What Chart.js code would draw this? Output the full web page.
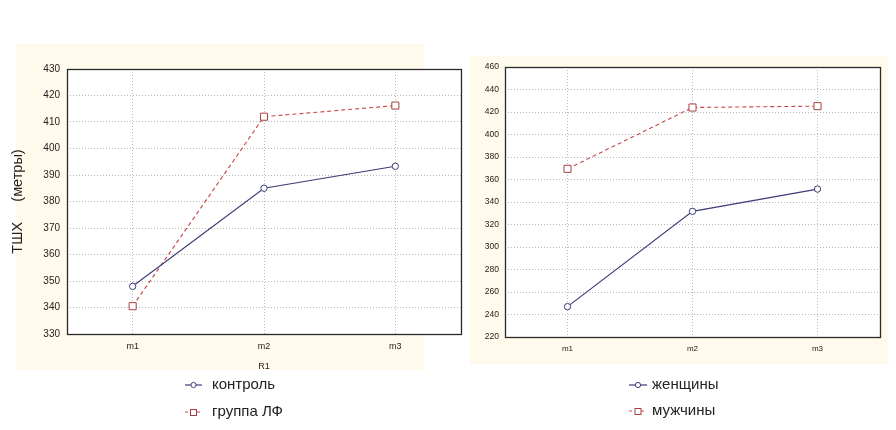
<!DOCTYPE html>
<html><head><meta charset="utf-8">
<script src="https://cdn.jsdelivr.net/npm/chart.js@4.4.0/dist/chart.umd.min.js"></script>
<style>
html,body{margin:0;padding:0;background:#fff;}
body{width:896px;height:430px;position:relative;overflow:hidden;font-family:"Liberation Sans",Arial,sans-serif;}
.bg{position:absolute;background:#fffaeb;}
canvas{position:absolute;top:0;}
.item{position:absolute;white-space:nowrap;height:18px;font-family:"Liberation Sans",Arial,sans-serif;font-size:15px;line-height:18px;color:#222;}
.item svg{position:absolute;top:4px;}
.item span{position:absolute;top:-1px;}
</style></head>
<body>
<div class="bg" style="left:16px;top:44px;width:408px;height:326px;"></div>
<div class="bg" style="left:470px;top:56px;width:418px;height:308px;"></div>
<canvas id="c1" width="470" height="430" style="left:0"></canvas>
<canvas id="c2" width="434" height="430" style="left:462px"></canvas>

<div class="item" style="left:185px;top:376px;">
 <svg width="17" height="10"><line x1="0" y1="5" x2="17" y2="5" stroke="#3d3d78" stroke-width="1.2"/><circle cx="8.5" cy="5" r="2.6" fill="#fff" stroke="#3d3d78" stroke-width="1"/></svg><span id="l1a" style="left:27px"></span></div>
<div class="item" style="left:185px;top:403px;">
 <svg width="17" height="10"><line x1="0" y1="5" x2="17" y2="5" stroke="#c84848" stroke-width="1.2" stroke-dasharray="3,3"/><rect x="5.5" y="2.5" width="6" height="6" fill="#fff" stroke="#a84040" stroke-width="1"/></svg><span id="l1b" style="left:27px"></span></div>
<div class="item" style="left:629px;top:376px;">
 <svg width="18" height="10"><line x1="0" y1="5" x2="18" y2="5" stroke="#3d3d78" stroke-width="1.2"/><circle cx="9" cy="5" r="2.6" fill="#fff" stroke="#3d3d78" stroke-width="1"/></svg><span id="l2a" style="left:23px"></span></div>
<div class="item" style="left:629px;top:402px;">
 <svg width="18" height="10"><line x1="0" y1="5" x2="18" y2="5" stroke="#c84848" stroke-width="1.2" stroke-dasharray="3,3"/><rect x="6" y="2.5" width="6" height="6" fill="#fff" stroke="#a84040" stroke-width="1"/></svg><span id="l2b" style="left:23px"></span></div>

<script>
// ---- data ----
const categories = ['m1', 'm2', 'm3'];
const leftSeriesNames = ['контроль', 'группа ЛФ'];
const kontrol = [348, 385, 393.3];
const gruppaLF = [340.5, 412, 416.2];
const rightSeriesNames = ['женщины', 'мужчины'];
const zhenshchiny = [247, 331.7, 351.5];
const muzhchiny = [369.5, 424, 425.2];
const leftYTicks = {min: 330, max: 430, step: 10};
const rightYTicks = {min: 220, max: 460, step: 20};
const leftYTitle = 'ТШХ     (метры)';
const leftXTitle = 'R1';

document.getElementById('l1a').textContent = leftSeriesNames[0];
document.getElementById('l1b').textContent = leftSeriesNames[1];
document.getElementById('l2a').textContent = rightSeriesNames[0];
document.getElementById('l2b').textContent = rightSeriesNames[1];

const areaPlugin = {
  id: 'area',
  beforeDraw(chart) {
    const a = chart.chartArea, ctx = chart.ctx;
    ctx.save(); ctx.fillStyle = '#ffffff';
    ctx.fillRect(a.left, a.top, a.right - a.left, a.bottom - a.top);
    ctx.restore();
  },
  afterDraw(chart) {
    const a = chart.chartArea, ctx = chart.ctx;
    ctx.save(); ctx.strokeStyle = '#2a2a2a'; ctx.lineWidth = 1.3;
    ctx.strokeRect(Math.round(a.left) + 0.5, Math.round(a.top) + 0.5,
      Math.round(a.right - a.left), Math.round(a.bottom - a.top));
    ctx.restore();
  }
};

function blueSet(label, data) {
  return {label, data, borderColor: '#3d3d78', borderWidth: 1.2, tension: 0,
    pointStyle: 'circle', pointRadius: 3.2, pointBackgroundColor: '#fff',
    pointBorderColor: '#3d3d78', pointBorderWidth: 1};
}
function redSet(label, data) {
  return {label, data, borderColor: '#c84848', borderWidth: 1.1, borderDash: [4, 3], tension: 0,
    pointStyle: 'rect', pointRadius: 5, pointBackgroundColor: '#fff',
    pointBorderColor: '#a84040', pointBorderWidth: 1};
}

function makeChart(id, sets, yt, opts) {
  return new Chart(document.getElementById(id), {
    type: 'line',
    data: {labels: categories, datasets: sets},
    plugins: [areaPlugin],
    options: {
      responsive: false, animation: false, devicePixelRatio: 1,
      layout: {padding: opts.padding},
      plugins: {legend: {display: false}, tooltip: {enabled: false}},
      scales: {
        x: {
          offset: true,
          grid: {offset: false, drawTicks: false, color: '#b8b8b8', lineWidth: 1},
          border: {display: false, dash: [1, 2]},
          ticks: {padding: 7, color: '#222', font: {family: 'Liberation Sans', size: opts.xFont}},
          title: opts.xTitle ? {display: true, text: opts.xTitle, color: '#222',
            font: {family: 'Liberation Sans', size: 9}, padding: {top: 0, bottom: 2}} : {display: false},
          afterFit(s) { s.height = 40; }
        },
        y: {
          min: yt.min, max: yt.max,
          grid: {drawTicks: false, color: '#b8b8b8', lineWidth: 1},
          border: {display: false, dash: [1, 2]},
          ticks: {stepSize: yt.step, padding: opts.yPad, color: '#222',
            font: {family: 'Liberation Sans', size: opts.yFont}},
          title: opts.yTitle ? {display: true, text: opts.yTitle, color: '#222',
            font: {family: 'Liberation Sans', size: 14.5}, padding: {top: 9, bottom: 0}} : {display: false},
          afterFit(s) { s.width = opts.yWidth; }
        }
      }
    }
  });
}

makeChart('c1', [blueSet(leftSeriesNames[0], kontrol), redSet(leftSeriesNames[1], gruppaLF)], leftYTicks,
  {padding: {top: 69, left: 0, right: 9, bottom: 56}, xFont: 9, yFont: 10, yPad: 7, yWidth: 67,
   xTitle: leftXTitle, yTitle: leftYTitle});
makeChart('c2', [blueSet(rightSeriesNames[0], zhenshchiny), redSet(rightSeriesNames[1], muzhchiny)], rightYTicks,
  {padding: {top: 67, left: 0, right: 16, bottom: 53}, xFont: 8, yFont: 8.5, yPad: 6, yWidth: 43});
</script>
</body></html>
